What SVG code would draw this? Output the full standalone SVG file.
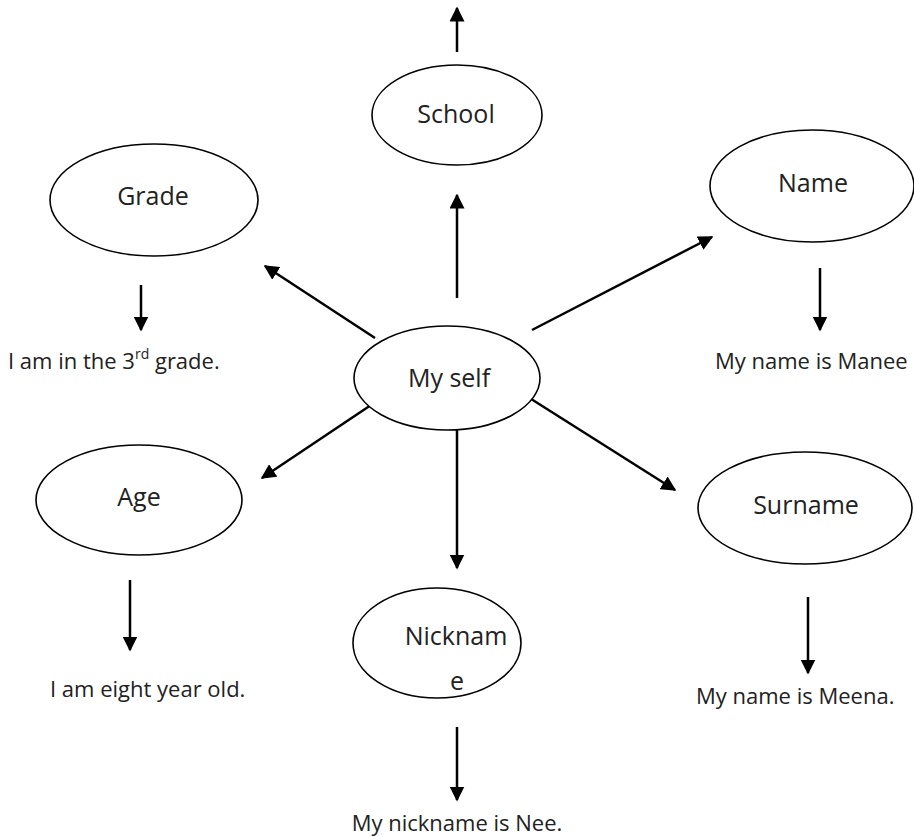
<svg xmlns="http://www.w3.org/2000/svg" width="914" height="837" viewBox="0 0 914 837">
<style>
.n{fill:#fff;stroke:#000;stroke-width:1.6}
.t{font-family:"Open Sans","Noto Sans",sans-serif;font-size:25px;fill:#222;text-anchor:middle}
.s{font-family:"Open Sans","Noto Sans",sans-serif;font-size:22px;fill:#222}
.c line{stroke:#000;stroke-width:2.5;marker-end:url(#a)}
</style>
<defs><marker id="a" viewBox="0 0 10 10" refX="9" refY="5" markerWidth="6" markerHeight="6" orient="auto" markerUnits="strokeWidth"><path d="M0,0L10,5L0,10z" fill="#000"/></marker></defs>
<rect width="914" height="837" fill="#fff"/>
<g class="c">
<line x1="457" y1="52" x2="457" y2="8"/>
<line x1="457" y1="298" x2="457" y2="195"/>
<line x1="375" y1="338" x2="265" y2="266"/>
<line x1="532" y1="330" x2="712" y2="237"/>
<line x1="141" y1="285" x2="141" y2="330"/>
<line x1="820" y1="268" x2="820" y2="330"/>
<line x1="383" y1="397" x2="262" y2="478"/>
<line x1="528" y1="397" x2="675" y2="490"/>
<line x1="457" y1="413" x2="457" y2="568"/>
<line x1="130" y1="580" x2="130" y2="650"/>
<line x1="808" y1="597" x2="808" y2="673"/>
<line x1="457" y1="727" x2="457" y2="800"/>
</g>
<g id="school"><ellipse class="n" cx="457" cy="115" rx="85" ry="50"/><text class="t" x="456" y="123">School</text></g>
<g id="grade"><ellipse class="n" cx="154" cy="200" rx="104" ry="56"/><text class="t" x="153" y="205">Grade</text></g>
<g id="name"><ellipse class="n" cx="812" cy="186" rx="102" ry="56"/><text class="t" x="813" y="192">Name</text></g>
<g id="myself"><ellipse class="n" cx="447" cy="378" rx="93" ry="52"/><text class="t" x="449" y="387">My self</text></g>
<g id="age"><ellipse class="n" cx="139" cy="500" rx="103" ry="55"/><text class="t" x="139" y="506">Age</text></g>
<g id="surname"><ellipse class="n" cx="805" cy="508" rx="107" ry="56"/><text class="t" x="806" y="514">Surname</text></g>
<g id="nickname"><ellipse class="n" cx="437" cy="643" rx="84" ry="55"/><text class="t" x="456" y="645">Nicknam</text><text class="t" x="457" y="690">e</text></g>
<g id="labels">
<text class="s" x="8" y="369">I am in the 3<tspan font-size="14" dy="-10">rd</tspan><tspan dy="10"> grade.</tspan></text>
<text class="s" x="715" y="369">My name is Manee</text>
<text class="s" x="50" y="697">I am eight year old.</text>
<text class="s" x="696" y="704">My name is Meena.</text>
<text class="s" x="457" y="831" text-anchor="middle">My nickname is Nee.</text>
</g>
</svg>
